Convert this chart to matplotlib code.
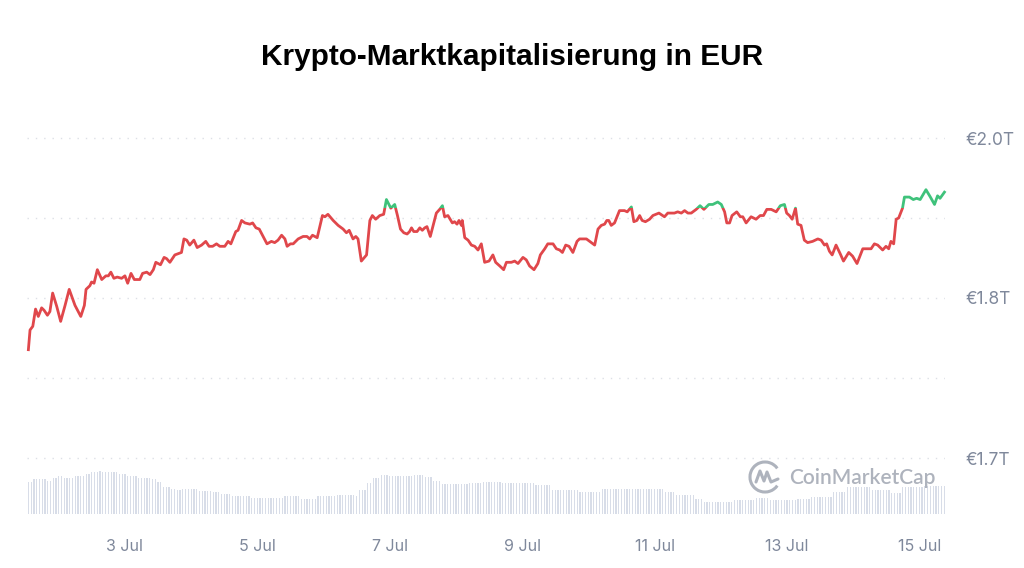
import matplotlib
matplotlib.use('Agg')
import matplotlib.pyplot as plt
import numpy as np
from matplotlib.patches import Rectangle, Arc
from matplotlib.lines import Line2D

# hours since 1 Jul 00:00, total crypto market cap in EUR trillions
hours = [13.0, 13.6, 14.6, 15.6, 16.6, 17.8, 18.7, 19.9, 20.8, 21.8, 23.3, 24.7, 26.3, 27.8, 29.9,
         32.0, 33.3, 33.9, 35.3, 35.9, 36.8, 38.0, 39.6, 41.1, 42.0, 42.9, 44.0, 45.2, 46.8, 48.0,
         49.0, 50.2, 51.4, 53.4, 54.4, 55.9, 57.1, 58.3, 59.2, 60.9, 62.2, 63.1, 64.3, 66.1, 67.3,
         68.5, 69.4, 70.4, 71.5, 73.0, 74.2, 75.8, 77.3, 78.5, 79.8, 81.2, 82.4, 84.2, 85.4, 86.4,
         88.2, 89.0, 90.3, 91.5, 93.3, 94.3, 95.5, 96.7, 98.1, 99.5, 101.1, 102.3, 103.5, 104.8, 106.0,
         106.8, 108.0, 109.0, 110.8, 112.6, 114.0, 115.0, 116.0, 117.7, 119.6, 120.5, 121.6, 123.5, 125.3, 127.1,
         128.3, 129.3, 130.7, 131.7, 132.5, 133.7, 135.6, 136.8, 137.7, 138.9, 140.4, 141.8, 142.8, 144.4, 145.8,
         146.8, 147.9, 149.1, 150.3, 151.2, 151.9, 152.7, 153.9, 154.9, 155.8, 156.7, 157.5, 158.7, 160.9, 162.1,
         163.1, 163.9, 165.1, 166.7, 167.5, 168.4, 169.1, 170.0, 170.3, 171.2, 172.4, 173.6, 174.8, 176.0, 177.2,
         178.4, 180.0, 181.4, 182.4, 183.9, 185.3, 186.3, 188.1, 189.3, 190.5, 192.3, 193.5, 194.7, 196.3, 197.7,
         198.6, 200.2, 201.3, 203.2, 204.4, 205.6, 206.6, 207.8, 209.0, 210.4, 211.9, 212.8, 215.3, 216.5, 218.3,
         219.5, 220.7, 221.9, 222.7, 223.4, 224.3, 225.5, 227.3, 229.1, 230.1, 231.6, 232.5, 233.6, 234.6, 235.5,
         236.7, 238.2, 239.4, 241.6, 243.6, 244.8, 247.2, 248.4, 249.7, 250.9, 252.1, 253.3, 255.1, 256.5, 257.9,
         259.7, 261.1, 262.9, 264.2, 265.4, 266.2, 267.2, 268.1, 269.8, 271.1, 272.0, 273.2, 275.0, 276.8, 278.3,
         279.5, 280.7, 282.3, 284.1, 285.6, 287.1, 287.9, 288.9, 289.9, 291.1, 291.9, 293.1, 294.3, 295.5, 297.3,
         299.2, 300.4, 301.6, 302.4, 303.4, 304.4, 305.8, 307.3, 308.5, 310.4, 311.8, 313.4, 315.5, 317.3, 318.5,
         319.7, 320.9, 322.7, 323.9, 324.9, 325.7, 326.7, 327.6, 328.5, 329.9, 330.6, 332.4, 333.8, 335.0, 336.3,
         338.4, 340.0, 341.5, 342.6, 343.5, 345.1]

market_cap = [1.788, 1.804, 1.807, 1.821, 1.815, 1.822, 1.820, 1.816, 1.819, 1.834, 1.823, 1.811, 1.824, 1.837, 1.824,
              1.815, 1.824, 1.837, 1.840, 1.843, 1.842, 1.853, 1.845, 1.848, 1.848, 1.851, 1.846, 1.847, 1.846, 1.848,
              1.842, 1.850, 1.845, 1.845, 1.850, 1.851, 1.849, 1.853, 1.859, 1.857, 1.863, 1.862, 1.859, 1.865, 1.866,
              1.867, 1.878, 1.877, 1.873, 1.877, 1.871, 1.873, 1.876, 1.872, 1.872, 1.874, 1.872, 1.872, 1.876, 1.874,
              1.884, 1.885, 1.893, 1.891, 1.890, 1.891, 1.887, 1.886, 1.880, 1.874, 1.876, 1.875, 1.877, 1.881, 1.878,
              1.872, 1.874, 1.874, 1.878, 1.880, 1.880, 1.878, 1.881, 1.879, 1.897, 1.896, 1.898, 1.893, 1.889, 1.886,
              1.883, 1.885, 1.878, 1.880, 1.878, 1.860, 1.865, 1.893, 1.897, 1.894, 1.897, 1.898, 1.910, 1.903, 1.906,
              1.897, 1.886, 1.883, 1.882, 1.884, 1.887, 1.884, 1.884, 1.887, 1.885, 1.887, 1.888, 1.880, 1.899, 1.902,
              1.905, 1.896, 1.897, 1.891, 1.892, 1.890, 1.893, 1.889, 1.893, 1.879, 1.877, 1.873, 1.872, 1.869, 1.874,
              1.859, 1.860, 1.865, 1.859, 1.856, 1.853, 1.859, 1.859, 1.860, 1.858, 1.863, 1.861, 1.856, 1.853, 1.858,
              1.865, 1.870, 1.874, 1.874, 1.870, 1.869, 1.867, 1.873, 1.872, 1.867, 1.876, 1.878, 1.878, 1.876, 1.873,
              1.886, 1.889, 1.890, 1.893, 1.893, 1.889, 1.891, 1.901, 1.901, 1.900, 1.904, 1.892, 1.893, 1.897, 1.893,
              1.892, 1.894, 1.897, 1.899, 1.896, 1.899, 1.899, 1.900, 1.899, 1.901, 1.899, 1.899, 1.902, 1.905, 1.902,
              1.906, 1.906, 1.908, 1.906, 1.900, 1.891, 1.891, 1.897, 1.900, 1.896, 1.896, 1.891, 1.896, 1.894, 1.897,
              1.897, 1.902, 1.902, 1.900, 1.905, 1.906, 1.899, 1.897, 1.894, 1.903, 1.890, 1.889, 1.877, 1.875, 1.876,
              1.878, 1.877, 1.873, 1.874, 1.868, 1.865, 1.873, 1.866, 1.860, 1.867, 1.864, 1.858, 1.870, 1.870, 1.870,
              1.874, 1.873, 1.869, 1.872, 1.870, 1.876, 1.874, 1.894, 1.895, 1.903, 1.912, 1.912, 1.910, 1.911, 1.910,
              1.918, 1.912, 1.906, 1.913, 1.911, 1.916]

# hourly 24h volume (bn EUR), given as level + number of hours it holds
vol_levels = [65, 70, 67, 72, 77, 73, 77, 80, 85, 87, 85, 80, 77, 73, 70, 65, 54, 51, 49, 51, 47, 45, 41, 37, 33,
              37, 31, 37, 39, 37, 49, 62, 73, 79, 77, 79, 75, 67, 60, 62, 65, 63, 59, 49, 45, 50, 45, 39, 30, 25,
              29, 32, 29, 30, 35, 45, 55, 49, 43, 55, 57]
vol_hours = [2, 5, 2, 2, 2, 4, 4, 2, 3, 1, 6, 3, 4, 5, 2, 2, 3, 2, 2, 6, 5, 3, 4, 7, 12,
             6, 6, 7, 7, 1, 3, 2, 3, 3, 9, 4, 3, 3, 10, 5, 7, 12, 6, 10, 8, 23, 4, 7, 3, 11,
             8, 5, 10, 5, 8, 5, 9, 7, 4, 8, 9]

day_ticks = [48, 96, 144, 192, 240, 288, 336]
day_labels = ['3 Jul', '5 Jul', '7 Jul', '9 Jul', '11 Jul', '13 Jul', '15 Jul']
grid_values = [1.96, 1.895, 1.83, 1.765, 1.70]
grid_labels = ['€2.0T', '', '€1.8T', '', '€1.7T']
threshold = 1.903

RED = '#e0474b'
GREEN = '#3fc27b'
GREY_TXT = '#7f889b'

fig = plt.figure(figsize=(10.24, 5.68), dpi=100)
rect = [27 / 1024, 54 / 568, 918 / 1024, 384 / 568]

ax_vol = fig.add_axes(rect)
volume = np.repeat(vol_levels, vol_hours)
vol_x = 13 + np.arange(len(volume))
ax_vol.bar(vol_x, volume, width=0.45, color='#d8dde8', linewidth=0)
ax_vol.set_xlim(12.5, 345.3)
ax_vol.set_ylim(0, 768)
ax_vol.axis('off')

ax = fig.add_axes(rect)
ax.patch.set_visible(False)
ax.set_xlim(12.5, 345.3)
ax.set_ylim(1.6545, 1.9665)

for g in grid_values:
    ax.axhline(g, color='#dde0e6', lw=1, ls=(0, (1, 5)), zorder=0)

red_line, = ax.plot(hours, market_cap, color=RED, lw=2.0, solid_joinstyle='round')
green_line, = ax.plot(hours, market_cap, color=GREEN, lw=2.0, solid_joinstyle='round')
red_line.set_clip_path(Rectangle((0, 0), 1000, threshold, transform=ax.transData))
green_line.set_clip_path(Rectangle((0, threshold), 1000, 10, transform=ax.transData))

for s in ax.spines.values():
    s.set_visible(False)
ax.yaxis.tick_right()
ax.set_yticks(grid_values)
ax.set_yticklabels(grid_labels)
ax.set_xticks(day_ticks)
ax.set_xticklabels(day_labels)
ax.tick_params(axis='y', length=0, pad=15, labelsize=12.5, labelcolor=GREY_TXT)
ax.tick_params(axis='x', length=0, pad=18, labelsize=11.5, labelcolor=GREY_TXT)
for lab in ax.get_xticklabels() + ax.get_yticklabels():
    lab.set_family('Inter')

fig.text(0.5, 1 - 57 / 568, 'Krypto-Marktkapitalisierung in EUR', ha='center', va='center',
         fontsize=21.4, fontweight='bold', family='Liberation Sans')

# CoinMarketCap watermark
wm = '#aeb3bd'
fig.add_artist(Arc((7.65, 0.91), 0.30, 0.30, theta1=35, theta2=325, lw=2.2, color=wm,
                   transform=fig.dpi_scale_trans))
zig_x = [7.56, 7.60, 7.64, 7.67, 7.71, 7.78]
zig_y = [0.86, 0.97, 0.87, 0.96, 0.86, 0.89]
fig.add_artist(Line2D(zig_x, zig_y, lw=2.2, color=wm, transform=fig.dpi_scale_trans,
                      solid_joinstyle='round', solid_capstyle='round'))
fig.text(789 / 1024, 1 - 478 / 568, 'CoinMarketCap', ha='left', va='center', fontsize=15,
         color=wm, fontweight='semibold', family='Lato')

fig.savefig('out.png', dpi=100)
